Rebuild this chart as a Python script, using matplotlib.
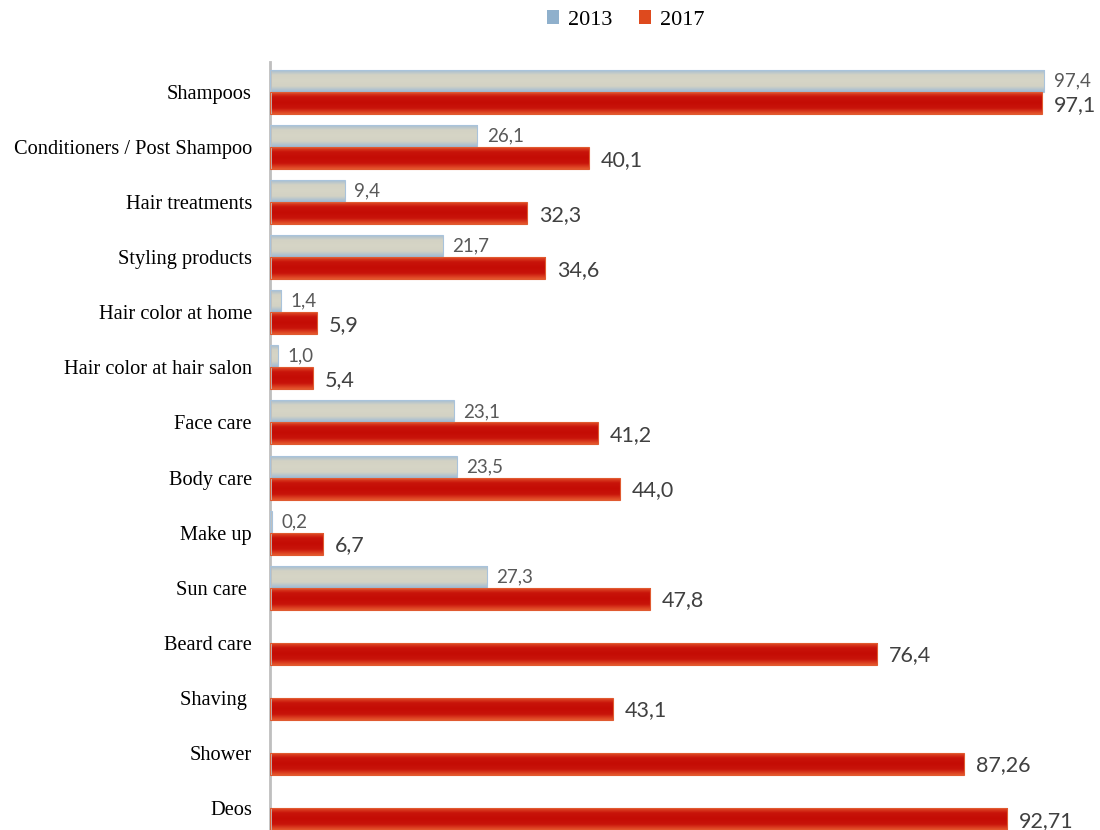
import numpy as np
import matplotlib.pyplot as plt
from matplotlib.colors import LinearSegmentedColormap
from matplotlib.patches import Patch

categories = ['Shampoos', 'Conditioners / Post Shampoo', 'Hair treatments', 'Styling products',
              'Hair color at home', 'Hair color at hair salon', 'Face care', 'Body care',
              'Make up', 'Sun care ', 'Beard care', 'Shaving ', 'Shower', 'Deos']
v2013 = [97.4, 26.1, 9.4, 21.7, 1.4, 1.0, 23.1, 23.5, 0.2, 27.3, None, None, None, None]
v2017 = [97.1, 40.1, 32.3, 34.6, 5.9, 5.4, 41.2, 44.0, 6.7, 47.8, 76.4, 43.1, 87.26, 92.71]
labels2013 = ['97,4', '26,1', '9,4', '21,7', '1,4', '1,0', '23,1', '23,5', '0,2', '27,3']
labels2017 = ['97,1', '40,1', '32,3', '34,6', '5,9', '5,4', '41,2', '44,0', '6,7', '47,8',
              '76,4', '43,1', '87,26', '92,71']

cmap13 = LinearSegmentedColormap.from_list('c13', ['#9dbad6', '#d3d2c4', '#d6d5c6', '#d3d2c4', '#9dbad6'])
cmap17 = LinearSegmentedColormap.from_list('c17', ['#e5582e', '#c8140a', '#c40c04', '#c8140a', '#e5582e'])
grad = np.linspace(0, 1, 64).reshape(-1, 1)

fig = plt.figure(figsize=(11, 8.3), dpi=100)
ax = fig.add_axes([270 / 1100, 0, 1 - 270 / 1100, 1 - 62 / 830])

h = 0.4
y = np.arange(len(categories))
xmax = 830 / 7.95
ylim = (13.4, -0.545)


def draw_bars(vals, offset, cmap, edge):
    bars = []
    for i, v in enumerate(vals):
        if v is None:
            continue
        y0 = i + offset
        b = ax.barh(y0 + h / 2, v, height=h, color='none', edgecolor=edge, linewidth=0.8, zorder=3)[0]
        im = ax.imshow(grad, extent=[0, v, y0 + h, y0], cmap=cmap, aspect='auto', zorder=2,
                       interpolation='bilinear')
        im.set_clip_path(b)
        bars.append((i, v, y0 + h / 2))
    return bars


b13 = draw_bars(v2013, -h, cmap13, '#a9c3db')
b17 = draw_bars(v2017, 0.0, cmap17, '#e05a30')

for (i, v, yc), lab in zip(b13, labels2013):
    ax.text(v + 1.2, yc, lab, va='center', ha='left', fontsize=13.5, color='#595959', family='Lato')
for (i, v, yc), lab in zip(b17, labels2017):
    ax.text(v + 1.5, yc + 0.03, lab, va='center', ha='left', fontsize=15.5, color='#404040', family='Lato')

ax.set_xlim(0, xmax)
ax.set_ylim(*ylim)
ax.set_yticks(y)
ax.set_yticklabels(categories, family='Liberation Serif', fontsize=14.7)
ax.tick_params(axis='y', length=0, pad=13)
ax.set_xticks([])
for s in ['top', 'right', 'bottom']:
    ax.spines[s].set_visible(False)
ax.spines['left'].set_color('#bfbfbf')
ax.spines['left'].set_linewidth(2)

handles = [Patch(facecolor='#8fb0cc', edgecolor='none', label='2013'),
           Patch(facecolor='#de4a1e', edgecolor='none', label='2017')]
fig.legend(handles=handles, loc='center', bbox_to_anchor=(0.569, 0.976), ncol=2, frameon=False,
           prop={'family': 'Liberation Serif', 'size': 16}, handlelength=0.55, handleheight=0.55,
           handletextpad=0.4, columnspacing=1.2)

fig.savefig('out.png', dpi=100)
